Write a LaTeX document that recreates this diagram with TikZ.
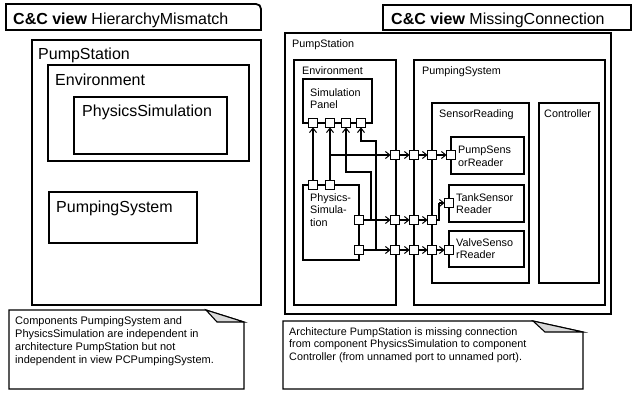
\documentclass[tikz,border=0pt]{standalone}
\usepackage{fontspec}
\setmainfont{Liberation Sans}
\usetikzlibrary{arrows.meta}
\begin{document}
\begin{tikzpicture}[x=1pt,y=-1pt,
  bigbox/.style={draw,line width=1.8pt},
  midbox/.style={draw,line width=1.5pt},
  smallbox/.style={draw,line width=1.2pt},
  port/.style={draw,fill=white,rectangle,minimum size=7.5pt,inner sep=0pt,line width=1.1pt},
  wire/.style={line width=1.1pt,-{Straight Barb[length=4.5pt,width=7pt,line width=1pt]}},
  plainwire/.style={line width=1.1pt},
  bigtxt/.style={anchor=base west,inner sep=0pt,font=\fontsize{16}{19}\selectfont},
  smalltxt/.style={anchor=base west,inner sep=0pt,font=\fontsize{10.8}{12.5}\selectfont},
  multitxt/.style={anchor=north west,inner sep=0pt,align=left,font=\fontsize{10.8}{12.5}\selectfont},
  notetxt/.style={anchor=north west,inner sep=0pt,align=left,font=\fontsize{11}{13}\selectfont},
  notebox/.style={draw,line width=1.1pt,fill=white},
  fold/.style={draw,line width=1.1pt,fill=black!15},
]
\useasboundingbox (0,0) rectangle (632,393);

% ---------------- left view ----------------
\draw[bigbox] (6,30) -- (6,4) -- (256,4) .. controls (259,4) and (261,6) .. (261,9) -- (261,30) -- cycle;
\node[bigtxt] (ltitle) at (13,25) {\textbf{C\&C view} HierarchyMismatch};

\draw[bigbox] (32,40) rectangle (261,305);
\node[bigtxt] (lps) at (38,60) {PumpStation};
\draw[bigbox] (48,65) rectangle (249,161);
\node[bigtxt] (lenv) at (55,86) {Environment};
\draw[bigbox] (74,97) rectangle (227,154);
\node[bigtxt] (lsim) at (82,117) {PhysicsSimulation};
\draw[bigbox] (49,192) rectangle (197,243);
\node[bigtxt] (lpump) at (56,212) {PumpingSystem};

\draw[notebox] (9,310) -- (206,310) -- (244,322) -- (244,389) -- (9,389) -- cycle;
\draw[fold] (206,310) -- (217,322) -- (244,322) -- cycle;
\node[notetxt] (lnote) at (15,316) {Components PumpingSystem and\\PhysicsSimulation are independent in\\architecture PumpStation but not\\independent in view PCPumpingSystem.};

% ---------------- right view ----------------
\draw[bigbox] (383,30) -- (383,5) -- (631,5) -- (631,30) -- cycle;
\node[bigtxt] (rtitle) at (391,25) {\textbf{C\&C view} MissingConnection};

\draw[midbox] (285,33) rectangle (611,314);
\node[smalltxt] (rps) at (292,48) {PumpStation};
\draw[smallbox] (294,60) rectangle (396,305);
\node[smalltxt] (renv) at (302,75) {Environment};
\draw[smallbox] (414,60) rectangle (605,305);
\node[smalltxt] (rpump) at (422,75) {PumpingSystem};
\draw[smallbox] (303,79) rectangle (372,123);
\node[multitxt] (rpanel) at (310,88) {Simulation\\Panel};
\draw[smallbox] (303,185) rectangle (359,260);
\node[multitxt] (rsim) at (310,193) {Physics-\\Simula-\\tion};
\draw[smallbox] (432,103) rectangle (529,283);
\node[smalltxt] (rsr) at (439,118) {SensorReading};
\draw[smallbox] (539,103) rectangle (599,283);
\node[smalltxt] (rctrl) at (544,118) {Controller};
\draw[smallbox] (451,137) rectangle (524,174);
\node[multitxt] (rpsr) at (458,146) {PumpSens\\orReader};
\draw[smallbox] (449,185) rectangle (524,222);
\node[multitxt] (rtsr) at (456,193) {TankSensor\\Reader};
\draw[smallbox] (449,231) rectangle (524,267);
\node[multitxt] (rvsr) at (456,238) {ValveSenso\\rReader};

% junction coordinates
\coordinate (j1) at (330,155);
\coordinate (j2) at (371,220);
\coordinate (j3) at (376,250);
\coordinate (k2) at (346,172);
\coordinate (k3) at (361,141);
\coordinate (t1) at (439,220);
\coordinate (t2) at (439,203);

% ports
\node[port] (sp1) at (313,123) {};
\node[port] (sp2) at (330,123) {};
\node[port] (sp3) at (346,123) {};
\node[port] (sp4) at (361,123) {};
\node[port] (ps1) at (313,185) {};
\node[port] (ps2) at (330,185) {};
\node[port] (ps3) at (359,220) {};
\node[port] (ps4) at (359,250) {};
\node[port] (e1) at (395,155) {};
\node[port] (e2) at (395,220) {};
\node[port] (e3) at (395,250) {};
\node[port] (p1) at (414,155) {};
\node[port] (p2) at (414,220) {};
\node[port] (p3) at (414,250) {};
\node[port] (s1) at (432,155) {};
\node[port] (s2) at (432,220) {};
\node[port] (s3) at (432,250) {};
\node[port] (r1) at (451,155) {};
\node[port] (r2) at (449,203) {};
\node[port] (r3) at (449,250) {};

% connectors
\draw[wire] (ps1) -- (sp1);
\draw[wire] (ps2) -- (sp2);
\draw[wire] (j2) |- (k2) -- (sp3);
\draw[wire] (j3) |- (k3) -- (sp4);

\draw[wire] (j1) -- (e1);
\draw[wire] (e1) -- (p1);
\draw[wire] (p1) -- (s1);
\draw[wire] (s1) -- (r1);

\draw[wire] (ps3) -- (e2);
\draw[wire] (e2) -- (p2);
\draw[wire] (p2) -- (s2);
\draw[plainwire] (s2) -- (t1) -- (t2);
\draw[wire] (t2) -- (r2);

\draw[wire] (ps4) -- (e3);
\draw[wire] (e3) -- (p3);
\draw[wire] (p3) -- (s3);
\draw[wire] (s3) -- (r3);

% ports on top of wires
\foreach \p in {sp1,sp2,sp3,sp4,ps1,ps2,ps3,ps4,e1,e2,e3,p1,p2,p3,s1,s2,s3,r1,r2,r3}
  \draw[line width=1.1pt,fill=white] (\p.south west) rectangle (\p.north east);

\draw[notebox] (283,321) -- (533,321) -- (583,332) -- (583,389) -- (283,389) -- cycle;
\draw[fold] (533,321) -- (545,332) -- (583,332) -- cycle;
\node[notetxt,font=\fontsize{10.8}{12.7}\selectfont] (rnote) at (289,327) {Architecture PumpStation is missing connection\\from component PhysicsSimulation to component\\Controller (from unnamed port to unnamed port).};
\end{tikzpicture}
\end{document}
